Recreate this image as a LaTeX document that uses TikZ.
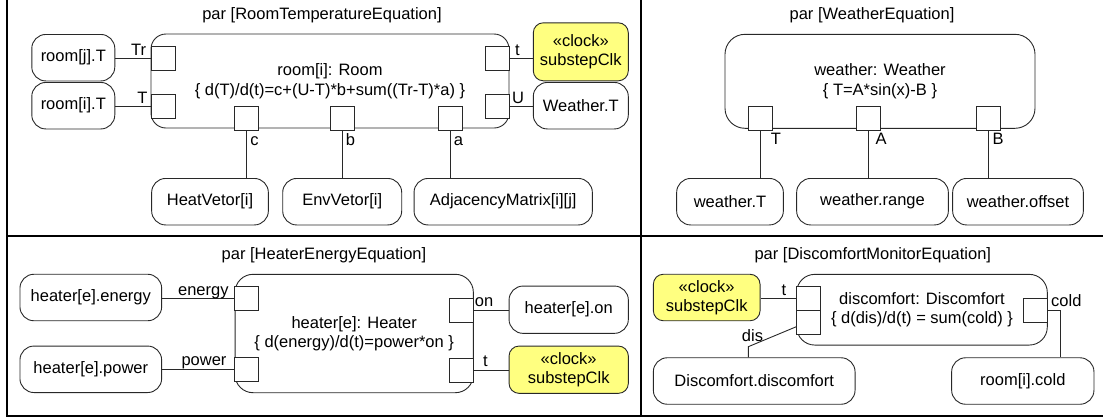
\documentclass[tikz,border=0pt]{standalone}
\usepackage{fontspec}
\setmainfont{Liberation Sans}
\definecolor{clockyellow}{RGB}{255,255,128}
\definecolor{ink}{RGB}{40,40,40}
\newcommand\dfont{\fontsize{16.5}{19.5}\selectfont}
\begin{document}
\begin{tikzpicture}[x=1pt,y=-1pt,
  every node/.style={font=\dfont},
  frame/.style={line width=2pt, draw=black},
  blk/.style={draw=ink, line width=0.9pt, inner sep=0pt, align=center},
  val/.style={draw=ink, line width=0.9pt, rounded corners=14pt, inner sep=0pt, align=center, minimum height=46.5pt},
  clk/.style={val, rounded corners=10pt, fill=clockyellow},
  port/.style={draw=ink, line width=0.9pt, fill=white, minimum width=24pt, minimum height=24pt, inner sep=0pt},
  wire/.style={draw=ink, line width=0.9pt},
  lbl/.style={inner sep=0pt, anchor=base},
  ttl/.style={inner sep=0pt, anchor=base}]
\useasboundingbox (0,0) rectangle (1103,418);
% frames
\draw[frame] (7,0) -- (7,416) -- (1103,416);
\draw[frame] (640.5,0) -- (640.5,416);
\draw[frame] (7,236) -- (1103,236);

% ---------- Panel 1: RoomTemperatureEquation
\node[ttl] (t1) at (322,19.5) {par [RoomTemperatureEquation]};
\node[blk, rounded corners=15pt, minimum width=358pt, minimum height=94pt] (room) at (330,81)
  {room[i]: Room\\\{ d(T)/d(t)=c+(U-T)*b+sum((Tr-T)*a) \}};
\node[port] (pTr) at (163.5,58.7) {};
\node[port] (pT) at (163.5,106.3) {};
\node[port] (pt1) at (497,58.7) {};
\node[port] (pU) at (497,106.3) {};
\node[port] (pc) at (246.3,118) {};
\node[port] (pb) at (342,118) {};
\node[port] (pa) at (450,118) {};
\node[val, minimum width=83pt] (roomj) at (73.3,57.7) {room[j].T};
\node[val, minimum width=83pt] (roomi) at (73.3,105.7) {room[i].T};
\node[clk, minimum width=95pt, minimum height=58pt] (clk1) at (580.8,51.8) {«clock»\\substepClk};
\node[val, minimum width=95pt] (weaT) at (580.8,105.7) {Weather.T};
\node[val, minimum width=116.7pt] (heat) at (210,201.7) {HeatVetor[i]};
\node[val, minimum width=119pt] (env) at (342.2,201.7) {EnvVetor[i]};
\node[val, minimum width=178.3pt] (adj) at (503.2,201.7) {AdjacencyMatrix[i][j]};
\draw[wire] (pTr.west) -- (pTr.west -| roomj.east);
\draw[wire] (pT.west) -- (pT.west -| roomi.east);
\draw[wire] (pt1.east) -- (pt1.east -| clk1.west);
\draw[wire] (pU.east) -- (pU.east -| weaT.west);
\draw[wire] (pc.south) -- (pc.south |- heat.north);
\draw[wire] (pb.south) -- (pb.south |- env.north);
\draw[wire] (pa.south) -- (pa.south |- adj.north);
\node[lbl] (lTr) at (138.7,55) {Tr};
\node[lbl] (lT) at (142.5,103.3) {T};
\node[lbl] (lt1) at (517.5,55) {t};
\node[lbl] (lU) at (518,103.3) {U};
\node[lbl] (lc) at (254.5,145) {c};
\node[lbl] (lb) at (350.5,145) {b};
\node[lbl] (la) at (458.5,145) {a};

% ---------- Panel 2: WeatherEquation
\node[ttl] (t2) at (872,19.5) {par [WeatherEquation]};
\node[blk, rounded corners=20pt, minimum width=310pt, minimum height=94pt] (wea) at (880,81.3)
  {weather: Weather\\\{ T=A*sin(x)-B \}};
\node[port] (pwT) at (760.5,118) {};
\node[port] (pwA) at (868.3,118) {};
\node[port] (pwB) at (988,118) {};
\node[val, minimum width=106.7pt] (wT) at (730,201.7) {weather.T};
\node[val, minimum width=151.7pt] (wR) at (872.5,201.7) {weather.range};
\node[val, minimum width=130.7pt] (wO) at (1018,201.7) {weather.offset};
\draw[wire] (pwT.south) -- (pwT.south |- wT.north);
\draw[wire] (pwA.south) -- (pwA.south |- wR.north);
\draw[wire] (pwB.south) -- (pwB.south |- wO.north);
\node[lbl] (lwT) at (776,144) {T};
\node[lbl] (lwA) at (881,144) {A};
\node[lbl] (lwB) at (998,144) {B};

% ---------- Panel 3: HeaterEnergyEquation
\node[ttl] (t3) at (324,259.5) {par [HeaterEnergyEquation]};
\node[blk, rounded corners=18pt, minimum width=238.3pt, minimum height=118.4pt] (heater) at (354.2,333.5)
  {heater[e]: Heater\\\{ d(energy)/d(t)=power*on \}};
\node[port] (penergy) at (246.7,298) {};
\node[port] (ppower) at (246.7,369.7) {};
\node[port] (pon) at (461.7,310) {};
\node[port] (pt3) at (461.7,370) {};
\node[val, minimum width=141.7pt] (henergy) at (90.8,297.5) {heater[e].energy};
\node[val, minimum width=141.7pt] (hpower) at (90.8,369.3) {heater[e].power};
\node[val, minimum width=119.3pt, minimum height=47.3pt] (hon) at (568.7,309.7) {heater[e].on};
\node[clk, minimum width=119.3pt, minimum height=47.3pt] (clk3) at (568.7,369.7) {«clock»\\substepClk};
\draw[wire] (penergy.west) -- (penergy.west -| henergy.east);
\draw[wire] (ppower.west) -- (ppower.west -| hpower.east);
\draw[wire] (pon.east) -- (pon.east -| hon.west);
\draw[wire] (pt3.east) -- (pt3.east -| clk3.west);
\node[lbl] (lenergy) at (203.3,295.7) {energy};
\node[lbl] (lpower) at (204,365) {power};
\node[lbl] (lon) at (484,306.7) {on};
\node[lbl] (lt3) at (485.5,366.7) {t};

% ---------- Panel 4: DiscomfortMonitorEquation
\node[ttl] (t4) at (872.8,259.5) {par [DiscomfortMonitorEquation]};
\node[blk, rounded corners=18pt, minimum width=250.6pt, minimum height=70.7pt] (disc) at (922,309.7)
  {discomfort: Discomfort\\\{ d(dis)/d(t) = sum(cold) \}};
\node[port] (pt4) at (808.8,298) {};
\node[port] (pdis) at (808.8,322) {};
\node[port] (pcold) at (1035.3,310) {};
\node[clk, minimum width=106.7pt] (clk4) at (706.7,297.5) {«clock»\\substepClk};
\node[val, minimum width=201.7pt] (dd) at (754.2,381) {Discomfort.discomfort};
\node[val, minimum width=142.3pt] (rc) at (1022.8,381) {room[i].cold};
\coordinate (disbend) at (748.3,346.7);
\coordinate (coldbend) at (1060,310);
\draw[wire] (pt4.west) -- (pt4.west -| clk4.east);
\draw[wire] ([yshift=-4.7pt]pdis.west) -- (disbend) -- (disbend |- dd.north);
\draw[wire] (pcold.east) -- (coldbend) -- (coldbend |- rc.north);
\node[lbl] (lt4) at (784,295) {t};
\node[lbl] (ldis) at (752.5,341.7) {dis};
\node[lbl] (lcold) at (1066.3,306) {cold};
\end{tikzpicture}
\end{document}
